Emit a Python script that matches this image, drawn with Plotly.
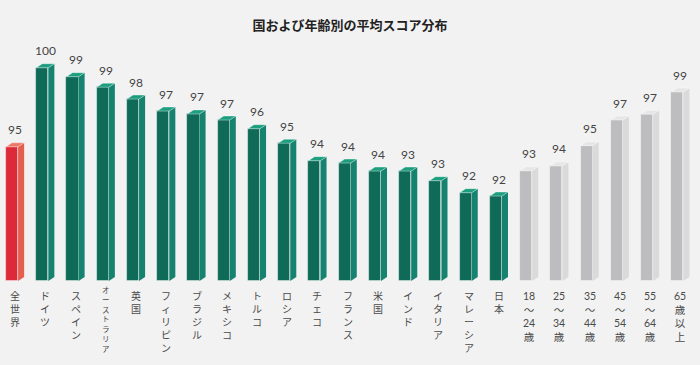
import plotly.graph_objects as go

# ---- data ----
categories = ["全世界", "ドイツ", "スペイン", "オーストラリア", "英国", "フィリピン", "ブラジル",
              "メキシコ", "トルコ", "ロシア", "チェコ", "フランス", "米国", "インド", "イタリア",
              "マレーシア", "日本", "18〜24歳", "25〜34歳", "35〜44歳", "45〜54歳", "55〜64歳", "65歳以上"]
scores = [95.06, 100.0, 99.44, 98.78, 98.04, 97.29, 97.11, 96.73, 96.19, 95.28, 94.19, 94.04,
          93.54, 93.54, 92.94, 92.19, 91.98, 93.56, 93.86, 95.13, 96.73, 97.09, 98.48]
score_labels = ["95", "100", "99", "99", "98", "97", "97", "97", "96", "95", "94", "94",
                "94", "93", "93", "92", "92", "93", "94", "95", "97", "97", "99"]
groups = ["global"] + ["country"] * 16 + ["age"] * 6
# vertical label layout (lines stacked top to bottom)
label_lines = [["全", "世", "界"], ["ド", "イ", "ツ"], ["ス", "ペ", "イ", "ン"],
               ["オ", "ー", "ス", "ト", "ラ", "リ", "ア"], ["英", "国"], ["フ", "ィ", "リ", "ピ", "ン"],
               ["ブ", "ラ", "ジ", "ル"], ["メ", "キ", "シ", "コ"], ["ト", "ル", "コ"], ["ロ", "シ", "ア"],
               ["チ", "ェ", "コ"], ["フ", "ラ", "ン", "ス"], ["米", "国"], ["イ", "ン", "ド"],
               ["イ", "タ", "リ", "ア"], ["マ", "レ", "ー", "シ", "ア"], ["日", "本"],
               ["18", "〜", "24", "歳"], ["25", "〜", "34", "歳"], ["35", "〜", "44", "歳"],
               ["45", "〜", "54", "歳"], ["55", "〜", "64", "歳"], ["65", "歳", "以", "上"]]
title_text = "国および年齢別の平均スコア分布"

# ---- style ----
BASE = 86.67
FRONT_W = 0.4
SIDE_W = 0.2
DEPTH = 0.25
palette = {
    "global": ("#dc2a3a", "#e45f4f", "#ec7765"),
    "country": ("#0f6b58", "#158370", "#1c9e7f"),
    "age": ("#bdbdbf", "#dadadb", "#e6e6e7"),
}
BG = "#f2f2f2"
FONT = "Lato, 'Noto Sans CJK JP', sans-serif"

xs = list(range(len(categories)))
front_colors = [palette[g][0] for g in groups]

fig = go.Figure()
fig.add_trace(go.Bar(
    x=xs, y=[s - BASE for s in scores], base=BASE,
    width=FRONT_W, offset=-(FRONT_W + SIDE_W) / 2,
    marker=dict(color=front_colors, line=dict(color="rgba(255,255,255,0.55)", width=0.8)),
    hoverinfo="skip", showlegend=False,
))

shapes = []
annotations = []
for x, s, g, lab, lines in zip(xs, scores, groups, score_labels, label_lines):
    _, side_c, top_c = palette[g]
    xl = x - (FRONT_W + SIDE_W) / 2
    xr = xl + FRONT_W
    xs2 = xr + SIDE_W
    shapes.append(dict(
        type="path", xref="x", yref="y", fillcolor=side_c, line=dict(width=0), layer="above",
        path=f"M {xr} {BASE} L {xs2} {BASE + DEPTH} L {xs2} {s + DEPTH} L {xr} {s} Z"))
    shapes.append(dict(
        type="path", xref="x", yref="y", fillcolor=top_c,
        line=dict(width=0.6, color="rgba(255,255,255,0.6)"), layer="above",
        path=f"M {xl} {s} L {xl + SIDE_W} {s + DEPTH} L {xs2} {s + DEPTH} L {xr} {s} Z"))
    annotations.append(dict(
        x=x, y=s, xref="x", yref="y", text=lab, showarrow=False,
        yanchor="middle", yshift=17, font=dict(family=FONT, size=12, color="#444444")))
    long_label = len(lines) > 6
    size = 7.5 if long_label else (10.5 if g == "age" else 10)
    annotations.append(dict(
        x=x, y=0, xref="x", yref="paper", text="<br>".join(lines), showarrow=False,
        xanchor="center", yanchor="top", yshift=-3 if long_label else -7, align="center",
        font=dict(family=FONT, size=size, color="#4a4a4a")))

px_per_unit = 30.24
x0 = -15.07 / px_per_unit
fig.update_layout(
    width=700, height=365,
    margin=dict(l=0, r=0, t=40, b=84),
    paper_bgcolor=BG, plot_bgcolor=BG,
    title=dict(text=f"<b>{title_text}</b>", x=0.5, xanchor="center", y=1 - 25 / 365,
               yref="container", yanchor="middle",
               font=dict(family="'Noto Sans CJK JP', sans-serif", size=13, color="#222222")),
    shapes=shapes, annotations=annotations,
    xaxis=dict(range=[x0, x0 + 700 / px_per_unit], showticklabels=False, showgrid=False,
               zeroline=False, showline=False, fixedrange=True),
    yaxis=dict(range=[BASE, BASE + 241 / 16], showticklabels=False, showgrid=False,
               zeroline=False, showline=False, fixedrange=True),
    bargap=0,
)

fig.write_html("out.html", config={"displayModeBar": False},
               post_script="document.body.style.margin='0';")
